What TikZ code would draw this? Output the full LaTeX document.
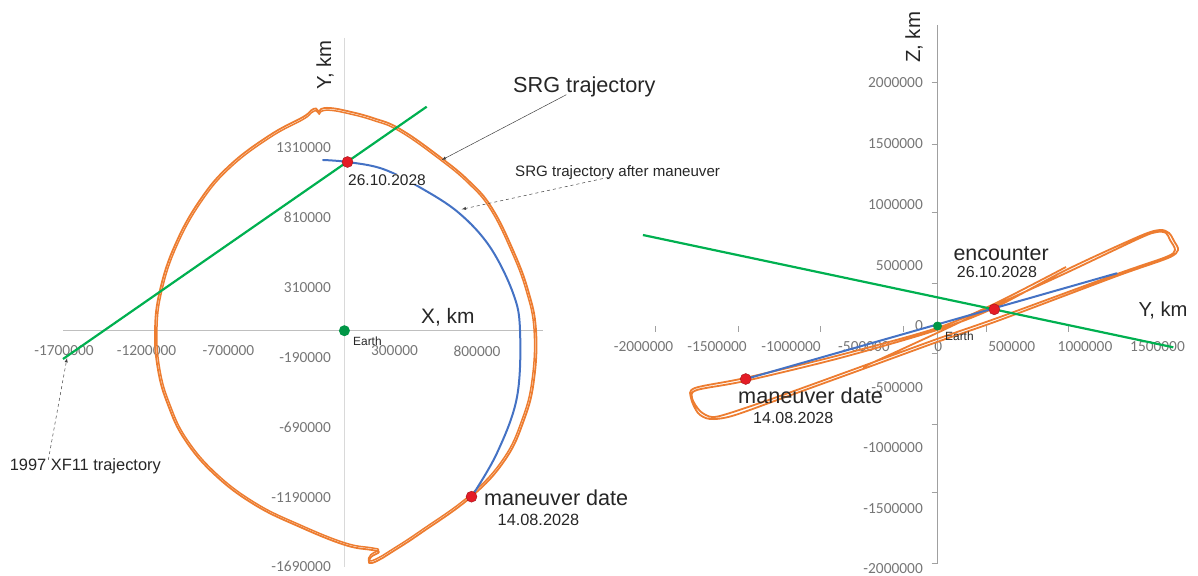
\documentclass[tikz,border=0pt]{standalone}
\usepackage{fontspec}
\setmainfont{Liberation Sans}
\newfontfamily\tickfont{Carlito}
\usetikzlibrary{arrows,positioning,shapes}

\definecolor{orbitorange}{RGB}{237,125,49}
\definecolor{orbitblue}{RGB}{68,114,196}
\definecolor{xfgreen}{RGB}{0,176,80}
\definecolor{earthgreen}{RGB}{0,150,70}
\definecolor{dotred}{RGB}{228,28,38}
\definecolor{ticktext}{RGB}{118,118,118}
\definecolor{axislight}{RGB}{217,217,217}
\definecolor{axismid}{RGB}{191,191,191}
\definecolor{axisdark}{RGB}{160,160,160}

\newcommand{\fsz}[1]{\fontsize{#1pt}{#1pt}\selectfont}
\newcommand{\srgloop}{(330,108) (347,111) (373,118) (400,129) (440,157) (470,182) (492,208) (513,250) (528,290) (536,330) (534,380) (524,420) (505,460) (471,497) (421,533) (392,552) (377,561) (369,563) (371,557) (379,552) (372,550) (345,545) (300,527) (255,505) (215,475) (185,440) (168,405) (158,370) (155,330) (160,290) (175,245) (200,200) (230,165) (270,135) (303,117) (311,110.5) (316,108.5) (319,112) (321,109)}

\begin{document}
\begin{tikzpicture}[x=1pt, y=-1pt, node distance=2pt]
	\tikzstyle{lbl}=[inner sep=0pt, text=black!85]
	\tikzstyle{ticklbl}=[inner sep=0pt, text=ticktext, font=\tickfont\fsz{15.4}]
	\tikzstyle{reddot}=[circle, fill=dotred, draw=dotred!70!black, line width=0.4pt, inner sep=0pt, minimum size=11pt]
	\tikzstyle{earthdot}=[circle, fill=earthgreen, inner sep=0pt, minimum size=11pt]
	\tikzstyle{srg}=[orbitorange, line width=1.8pt, line join=round]
	\tikzstyle{srgman}=[orbitblue, line width=2pt, line cap=round]
	\tikzstyle{xf}=[xfgreen, line width=2.2pt]
	\tikzstyle{leader}=[draw=black!75, line width=0.5pt, ->, >=latex]

	\useasboundingbox (0,0) rectangle (1198,575);

	% XY plane
	\draw[axislight, line width=0.8pt] (344.4,38) -- (344.4,567);
	\draw[axismid, line width=0.8pt] (63,330.7) -- (543,330.7);
	\foreach \v/\yy [count=\i] in {1310000/147.7, 810000/217.3, 310000/287.3, -190000/357.3, -690000/427.3, -1190000/497.3, -1690000/566.7}
		\node[ticklbl, anchor=east] (ytickL\i) at (331,\yy) {\v};
	\foreach \v/\xx [count=\i] in {-1700000/64, -1200000/146.5, -700000/228.5, 300000/394.5, 800000/477}
		\node[ticklbl] (xtickL\i) at (\xx,351) {\v};

	\draw[srg] plot[smooth cycle, tension=0.7] coordinates {\srgloop};
	\draw[srg, line width=1.5pt, scale around={0.99:(345,335)}] plot[smooth cycle, tension=0.7] coordinates {\srgloop};
	\draw[srgman] plot[smooth, tension=0.6] coordinates {(323,160) (347.5,162) (383,169) (421,188) (459,213) (490,247) (513,293) (520,330) (517,397) (497,453) (471.5,496.7)};
	\draw[xf] (63,359) -- (426.7,106.7);

	\node[earthdot] (earthL) at (344.4,330.7) {};
	\node[reddot] (encL) at (347.5,162) {};
	\node[reddot] (manL) at (471.5,496.7) {};

	\node[lbl, font=\fsz{15.5}, fill=white, anchor=base west] (encdateL) at (348,185) {26.10.2028};
	\node[lbl, font=\fsz{11.9}, anchor=base west] (earthlblL) at (353,345) {Earth};
	\node[lbl, font=\fsz{20.9}, anchor=base west] (xlblL) at (421,323) {X, km};
	\node[lbl, font=\fsz{20.3}, rotate=90, anchor=base west] (ylblL) at (331,90) {Y, km};
	\node[lbl, font=\fsz{21.6}, anchor=base west] (manlblL) at (484,505) {maneuver date};
	\node[lbl, font=\fsz{16.3}, anchor=base west] (mandateL) at (497.5,525) {14.08.2028};

	\node[lbl, font=\fsz{21.7}, anchor=base west] (srglbl) at (513,93) {SRG trajectory};
	\node[lbl, font=\fsz{15.1}, anchor=base west] (srgmanlbl) at (515,176) {SRG trajectory after maneuver};
	\node[lbl, font=\fsz{16.4}, anchor=base west] (xflbl) at (9.6,470) {1997 XF11 trajectory};
	\coordinate (srghead) at (441.7,160);
	\coordinate (srgmanhead) at (461.7,209.3);
	\coordinate (xfhead) at (67,358);
	\draw[leader] ([xshift=-18pt, yshift=3pt]srglbl.south) -- (srghead);
	\draw[leader, dashed] ([xshift=-9pt, yshift=2pt]srgmanlbl.south) -- (srgmanhead);
	\draw[leader, dashed] ([xshift=-37pt, yshift=-2pt]xflbl.north) -- (xfhead);

	% YZ plane
	\draw[axisdark, line width=0.8pt] (937.5,25) -- (937.5,563.3);
	\foreach \yy in {82.7,144,212.7,283.3,353.3,424,492.7,563.3}
		\draw[axisdark, line width=0.8pt] (931.5,\yy) -- (937.5,\yy);
	\foreach \xx in {655.8,738,820.1,903.1,986,1068.2}
		\draw[axisdark, line width=0.8pt] (\xx,326) -- (\xx,332);
	\foreach \v/\yy [count=\i] in {2000000/82.7, 1500000/144, 1000000/205, 500000/265.7, 0/326, -500000/387.3, -1000000/447.3, -1500000/508.3, -2000000/568.3}
		\node[ticklbl, anchor=east] (ztickR\i) at (923,\yy) {\v};
	\foreach \v/\xx [count=\i] in {-2000000/643.5, -1500000/717, -1000000/791, -500000/864, 0/938.3, 500000/1011.7, 1000000/1085, 1500000/1157.5}
		\node[ticklbl] (ytickR\i) at (\xx,346.7) {\v};

	\draw[srg] plot[smooth, tension=0.5] coordinates {(863,367) (937,333) (994,306) (1066,273) (1140,238) (1157,232) (1166,233) (1170,240) (1175,250) (1166,257) (1117,274) (1000,317) (937,339) (863,366) (780,396) (730,413) (712,417) (700,411) (692,398) (697,390) (745,381) (840,358) (937,330) (994,308) (1066,270) (1140,236) (1160,230) (1169,233) (1174,241) (1178,250) (1168,258) (1117,276) (1000,320) (937,342) (863,369) (780,399) (732,416) (710,419) (698,413) (691,398) (695,388) (745,378) (840,355) (937,328) (994,304) (1066,267)};
	\draw[srgman] (745.7,379) -- (1116.7,273.3);
	\draw[xf] (642.9,235) -- (1173.3,347.3);

	\node[earthdot, minimum size=9pt] (earthR) at (937.5,326) {};
	\node[reddot] (encR) at (994.3,309.3) {};
	\node[reddot] (manR) at (745.7,379) {};

	\node[lbl, font=\fsz{11.9}, anchor=base west] (earthlblR) at (945,340) {Earth};
	\node[lbl, font=\fsz{21.4}, anchor=base west] (enclblR) at (953.3,260) {encounter};
	\node[lbl, font=\fsz{16}, anchor=base west] (encdateR) at (956.7,277) {26.10.2028};
	\node[lbl, font=\fsz{20.2}, anchor=base west] (ylblR) at (1138.3,316.5) {Y, km};
	\node[lbl, font=\fsz{20.4}, rotate=90, anchor=base west] (zlblR) at (920,63) {Z, km};
	\node[lbl, font=\fsz{21.7}, anchor=base west] (manlblR) at (738,403) {maneuver date};
	\node[lbl, font=\fsz{16}, anchor=base west] (mandateR) at (753,423) {14.08.2028};
\end{tikzpicture}
\end{document}
